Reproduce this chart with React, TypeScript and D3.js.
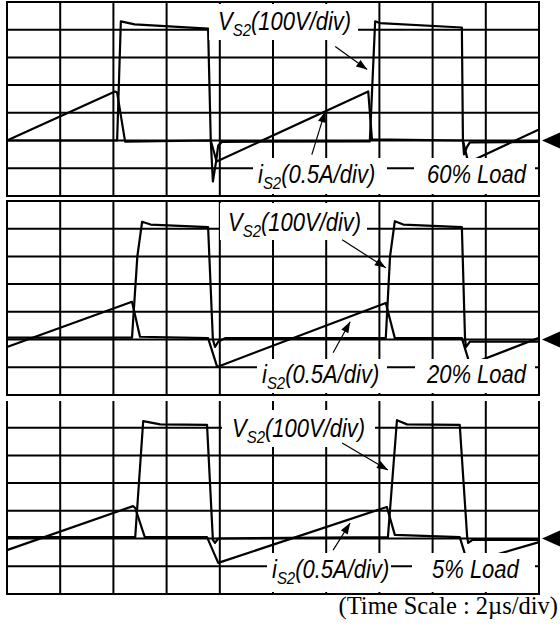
import React from 'react';
import * as d3 from 'd3';

type Pt = [number, number];

// Grid: 10 time divisions (2 µs/div), 7 vertical divisions, ground two divisions above the bottom
const timeDivisions = d3.range(0, 11);
const levelDivisions = d3.range(-2, 6);

const loadLabels = ['60% Load', '20% Load', '5% Load'];
const voltageLabel = { main: 'V', sub: 'S2', rest: '(100V/div)' };
const currentLabel = { main: 'i', sub: 'S2', rest: '(0.5A/div)' };
const captionText = '(Time Scale : 2\u00b5s/div)';

// Waveforms: [time in div, level in div above ground]
const vs2Load60: Pt[] = [
  [0, 0], [2.07, 0], [2.14, 4.3], [2.4, 4.19], [3.78, 4.04], [3.83, 0], [3.87, -1.48],
  [3.93, -0.76], [3.97, -0.18], [4.04, -0.05], [6.82, -0.03], [6.92, 4.3], [7.01, 4.24],
  [8.55, 4.08], [8.57, 0.04], [8.59, -0.5], [8.65, -0.22], [8.7, -0.07], [10, -0.05],
];
const is2Load60: Pt[] = [
  [0, 0], [2.03, 1.77], [2.07, 1.73], [2.22, -0.04], [3.83, 0], [3.94, -0.76],
  [6.79, 1.77], [6.86, 0.04], [8.57, 0], [8.67, -0.79], [10, 0.4],
];
const vs2Load20: Pt[] = [
  [0, 0.07], [2.35, 0.07], [2.45, 3.0], [2.54, 4.25], [2.7, 4.15], [3.78, 4.06], [3.87, 0],
  [3.91, -0.27], [3.97, -0.08], [4.1, 0.05], [7.12, 0.05], [7.2, 3.0], [7.29, 4.27],
  [7.45, 4.15], [8.55, 4.06], [8.61, 0], [8.63, -0.27], [8.7, -0.08], [10, -0.08],
];
const is2Load20: Pt[] = [
  [0, -0.27], [2.35, 1.36], [2.5, 0.1], [3.78, 0.05], [3.95, -0.99], [7.12, 1.32],
  [7.29, 0.05], [8.55, 0.05], [8.7, -0.9], [10, 0.06],
];
const vs2Load5: Pt[] = [
  [0, 0.05], [2.41, 0.05], [2.56, 4.24], [2.88, 4.12], [3.76, 4.1], [3.87, -0.05],
  [3.91, -0.16], [3.97, 0], [7.16, 0.05], [7.33, 4.27], [7.52, 4.12], [8.51, 4.1],
  [8.65, 0.05], [8.67, -0.16], [8.75, -0.05], [10, -0.05],
];
const is2Load5: Pt[] = [
  [0, -0.42], [2.37, 1.17], [2.41, 1.1], [2.59, 0.05], [3.76, 0.05], [3.97, -0.88],
  [7.14, 1.14], [7.29, 0.13], [8.51, 0.05], [8.66, -0.88], [10, -0.13],
];

// Annotation arrows [from, to] in division coordinates
const voltageArrows: [Pt, Pt][] = [
  [[6.17, 3.39], [6.77, 2.56]],
  [[6.3, 3.6], [7.12, 2.59]],
  [[6.3, 3.45], [7.16, 2.47]],
];
const currentArrows: [Pt, Pt][] = [
  [[5.73, -0.51], [5.98, 1.05]],
  [[6.13, -0.48], [6.45, 0.64]],
  [[6.13, -0.42], [6.45, 0.56]],
];

const voltageSeries = [vs2Load60, vs2Load20, vs2Load5];
const currentSeries = [is2Load60, is2Load20, is2Load5];

const W = 560;
const H = 628;
const X0 = 7;
const X1 = 539;
const DIV_H = 27.7;
const panelTops = [2, 201, 400];
const drawTopBorder = [true, true, false];

// label layout, relative to panel top
const layouts = [
  { vx: 218, vy: 28, vbox: [209, 2, 358, 38], ix: 258, iy: 181, ibox: [253, 156, 387, 192], lx: 427, lbox: [414, 156, 535, 192] },
  { vx: 228, vy: 30, vbox: [220, 2, 367, 39], ix: 262, iy: 182, ibox: [257, 158, 387, 192], lx: 427, lbox: [415, 158, 535, 192] },
  { vx: 232, vy: 37, vbox: [222, 10, 375, 47], ix: 272, iy: 178, ibox: [267, 153, 391, 192], lx: 432, lbox: [412, 153, 535, 192] },
];

const FONT = "'Liberation Sans', Arial, Helvetica, sans-serif";
const FS = 25;
const SQUEEZE = 0.88;

function arrowHead(from: Pt, to: Pt, len = 11, half = 4): string {
  const dx = to[0] - from[0];
  const dy = to[1] - from[1];
  const d = Math.hypot(dx, dy) || 1;
  const ux = dx / d;
  const uy = dy / d;
  const bx = to[0] - ux * len;
  const by = to[1] - uy * len;
  return `${to[0]},${to[1]} ${bx - uy * half},${by + ux * half} ${bx + uy * half},${by - ux * half}`;
}

function Label({ x, y, main, sub, rest }: { x: number; y: number; main: string; sub: string; rest: string }) {
  return (
    <text
      transform={`translate(${x},${y}) scale(${SQUEEZE},1)`}
      fontFamily={FONT}
      fontStyle="italic"
      fontSize={FS}
      fill="#000"
    >
      <tspan>{main}</tspan>
      <tspan fontSize={17} dy={6}>{sub}</tspan>
      <tspan dy={-6}>{rest}</tspan>
    </text>
  );
}

function Panel({ index }: { index: number }) {
  const top = panelTops[index];
  const bottom = top + 7 * DIV_H;
  const x = d3.scaleLinear().domain([0, 10]).range([X0, X1]);
  const y = d3.scaleLinear().domain([-2, 5]).range([bottom, top]);
  const line = d3.line<Pt>().x((d) => x(d[0])).y((d) => y(d[1]));
  const L = layouts[index];
  const rect = (b: number[], key: string) => (
    <rect key={key} x={b[0]} y={top + b[1]} width={b[2] - b[0]} height={b[3] - b[1]} fill="#fff" />
  );
  const gY = y(0);
  const vFrom: Pt = [x(voltageArrows[index][0][0]), y(voltageArrows[index][0][1])];
  const vTo: Pt = [x(voltageArrows[index][1][0]), y(voltageArrows[index][1][1])];
  const iFrom: Pt = [x(currentArrows[index][0][0]), y(currentArrows[index][0][1])];
  const iTo: Pt = [x(currentArrows[index][1][0]), y(currentArrows[index][1][1])];
  const gridTop = drawTopBorder[index] ? top : top + 1;
  return (
    <g>
      {/* inner grid */}
      {timeDivisions.slice(1, -1).map((t) => (
        <line key={'v' + t} x1={x(t)} x2={x(t)} y1={gridTop} y2={bottom} stroke="#000" strokeWidth={2} />
      ))}
      {levelDivisions.slice(1, -1).map((v) => (
        <line key={'h' + v} x1={X0} x2={X1} y1={y(v)} y2={y(v)} stroke="#000" strokeWidth={2} />
      ))}
      {/* traces */}
      <path d={line(voltageSeries[index]) || ''} fill="none" stroke="#000" strokeWidth={2.2} strokeLinejoin="round" />
      <path d={line(currentSeries[index]) || ''} fill="none" stroke="#000" strokeWidth={2.2} strokeLinejoin="round" />
      {/* label backgrounds */}
      {rect(L.vbox, 'vb')}
      {rect(L.ibox, 'ib')}
      {rect(L.lbox, 'lb')}
      {/* border */}
      <line x1={X0} x2={X0} y1={gridTop} y2={bottom} stroke="#000" strokeWidth={2} />
      <line x1={X1} x2={X1} y1={gridTop} y2={bottom} stroke="#000" strokeWidth={2} />
      <line x1={X0 - 1} x2={X1 + 1} y1={bottom} y2={bottom} stroke="#000" strokeWidth={2} />
      {drawTopBorder[index] && <line x1={X0 - 1} x2={X1 + 1} y1={top} y2={top} stroke="#000" strokeWidth={2} />}
      {/* labels */}
      <Label x={L.vx} y={top + L.vy} {...voltageLabel} />
      <Label x={L.ix} y={top + L.iy} {...currentLabel} />
      <text
        transform={`translate(${L.lx},${top + L.iy}) scale(${SQUEEZE},1)`}
        fontFamily={FONT}
        fontStyle="italic"
        fontSize={FS}
        fill="#000"
      >
        {loadLabels[index]}
      </text>
      {/* arrows */}
      <line x1={vFrom[0]} y1={vFrom[1]} x2={vTo[0]} y2={vTo[1]} stroke="#000" strokeWidth={1.2} />
      <polygon points={arrowHead(vFrom, vTo)} fill="#000" />
      <line x1={iFrom[0]} y1={iFrom[1]} x2={iTo[0]} y2={iTo[1]} stroke="#000" strokeWidth={1.2} />
      <polygon points={arrowHead(iFrom, iTo)} fill="#000" />
      {/* ground marker */}
      <polygon points={`${X1 + 3},${gY} ${W},${gY - 8} ${W},${gY + 8}`} fill="#000" />
    </g>
  );
}

export default function App() {
  return (
    <svg
      width={W}
      height={H}
      viewBox={`0 0 ${W} ${H}`}
      style={{ position: 'absolute', left: 0, top: 0, display: 'block', background: '#fff' }}
    >
      <rect x={0} y={0} width={W} height={H} fill="#fff" />
      {panelTops.map((_, i) => (
        <Panel key={i} index={i} />
      ))}
      <text
        x={558}
        y={614}
        textAnchor="end"
        fontFamily="'Liberation Serif', 'Times New Roman', Times, serif"
        fontSize={24.5}
        fill="#000"
      >
        {captionText}
      </text>
    </svg>
  );
}
